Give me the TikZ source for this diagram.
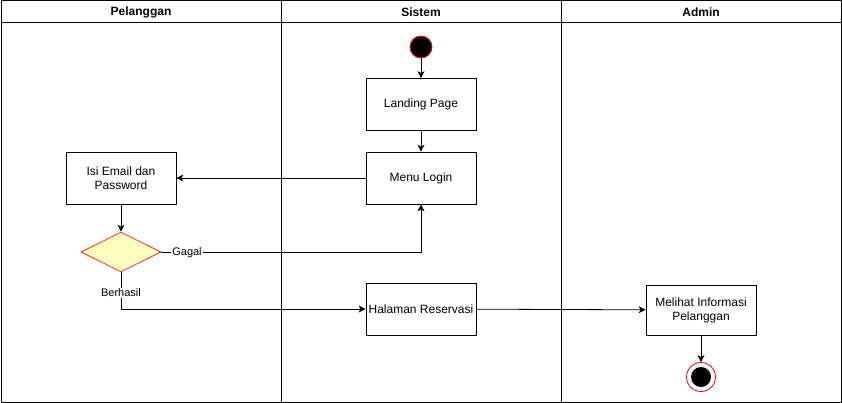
\documentclass[tikz,border=0pt]{standalone}
\usepackage{fontspec}
\setmainfont{Liberation Sans}
\usetikzlibrary{shapes.geometric,arrows.meta}
\begin{document}
\begin{tikzpicture}[x=1pt,y=-1pt,
  lane/.style={draw=black,line width=1pt},
  act/.style={draw=black,line width=0.8pt,minimum width=110pt,minimum height=52pt,align=center,font=\fontsize{12}{14}\selectfont,inner sep=2pt},
  dec/.style={diamond,draw=red,fill=yellow!25!white,line width=0.6pt,minimum width=80pt,minimum height=40pt,inner sep=0pt,aspect=2},
  flow/.style={draw=black,line width=0.8pt,-{Stealth[length=7pt,width=7pt,inset=2pt]}},
  lbl/.style={font=\fontsize{11}{13}\selectfont,fill=white,inner sep=1pt},
  hdr/.style={font=\bfseries\fontsize{12}{14}\selectfont}]
\useasboundingbox (0,0) rectangle (842,403);
% lanes
\draw[lane] (1,1) rectangle (841,402);
\draw[lane] (1,23) -- (841,23);
\draw[lane] (281,1) -- (281,402);
\draw[lane] (561,1) -- (561,402);
\node[hdr] (h1) at (141,12) {Pelanggan};
\node[hdr] (h2) at (421,12) {Sistem};
\node[hdr] (h3) at (701,12) {Admin};
% nodes
\node[circle,fill=black,draw=red,line width=0.8pt,minimum size=22pt,inner sep=0pt] (start) at (421,47) {};
\node[act] (land) at (421,104.5) {Landing Page};
\node[act] (menu) at (421,178) {Menu Login};
\node[act] (isi) at (121,178) {Isi Email dan\\Password};
\node[dec] (d) at (121,252) {};
\node[act] (hal) at (421,309) {Halaman Reservasi};
\node[act,minimum height=50pt] (mel) at (701,310) {Melihat Informasi\\Pelanggan};
\node[circle,draw=red,fill=white,line width=0.8pt,minimum size=29pt,inner sep=0pt] (end) at (701,377) {};
\node[circle,fill=black,minimum size=20pt,inner sep=0pt] (endin) at (701,377) {};
% edges
\draw[flow] (start) -- (land);
\draw[flow] (land) -- (menu);
\draw[flow] (menu) -- (isi);
\draw[flow] (isi) -- (d);
\draw[flow] (d.east) -- (421,252) -- (menu.south);
\node[lbl] (gagal) at (187,253) {Gagal};
\draw[flow] (d.south) -- (121,309) -- (hal.west);
\node[lbl] (berhasil) at (121,293) {Berhasil};
\draw[flow] (hal) -- (mel);
\draw[flow] (mel) -- (end);
\end{tikzpicture}
\end{document}
